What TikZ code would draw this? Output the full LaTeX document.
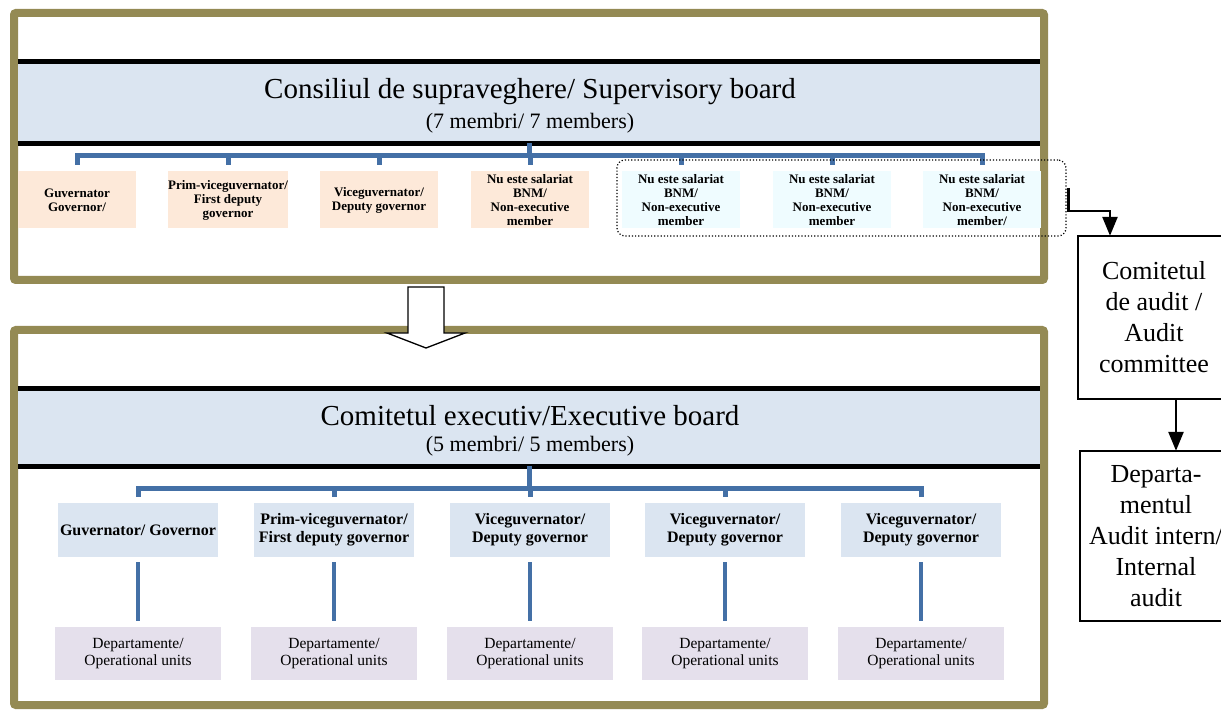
\documentclass[tikz,border=0pt]{standalone}
\usepackage{fontspec}
\setmainfont{Liberation Serif}
\usetikzlibrary{arrows.meta,calc}

\definecolor{frameolive}{HTML}{948A54}
\definecolor{bandblue}{HTML}{DBE5F1}
\definecolor{peach}{HTML}{FDE9D9}
\definecolor{paleaqua}{HTML}{EFFCFF}
\definecolor{lavender}{HTML}{E5E0EC}
\definecolor{linkblue}{HTML}{4470A6}

\tikzset{
  frame/.style={draw=frameolive, line width=8pt, rounded corners=2pt, minimum width=1030pt, inner sep=0pt},
  band/.style={fill=bandblue, minimum width=1022pt, inner sep=0pt},
  rule/.style={draw=black, line width=5pt},
  titletext/.style={font=\fontsize{29}{32}\selectfont, inner sep=0pt},
  subtext/.style={font=\fontsize{22}{25}\selectfont, inner sep=0pt},
  memberbox/.style={font=\fontsize{13}{14}\selectfont\bfseries, align=center, minimum width=118pt, minimum height=57pt, inner sep=0pt},
  govbox/.style={memberbox, fill=peach},
  nonexbox/.style={memberbox, fill=paleaqua},
  execbox/.style={font=\fontsize{16}{18}\selectfont\bfseries, align=center, fill=bandblue, minimum width=160pt, minimum height=54pt, inner sep=0pt},
  deptbox/.style={font=\fontsize{15.5}{17}\selectfont, align=center, fill=lavender, minimum width=166pt, minimum height=53pt, inner sep=0pt},
  link/.style={draw=linkblue, line width=5pt},
  dotbox/.style={draw, dotted, line width=1.2pt, rounded corners=8pt, minimum width=449pt, minimum height=76pt},
  audittext/.style={font=\fontsize{26}{31}\selectfont, align=center, minimum width=152pt, inner sep=0pt},
  auditline/.style={draw, line width=1.5pt},
  arr/.style={draw, line width=2.5pt, -{Triangle[width=15pt,length=19pt]}}
}

\begin{document}
\begin{tikzpicture}[x=1pt,y=-1pt]
  \useasboundingbox (0,0) rectangle (1221,711);

  % supervisory board
  \node[frame, minimum height=267pt] (sbframe) at (529,146.5) {};
  \node[band, minimum height=81pt] (sbband) at (529,102.5) {};
  \draw[rule] (sbband.north west) -- (sbband.north east);
  \draw[rule] (sbband.south west) -- (sbband.south east);
  \node[titletext] (sbtitle) at (530,92) {Consiliul de supraveghere/ Supervisory board};
  \node[subtext] (sbsub) at (530,123) {(7 membri/ 7 members)};

  \node[govbox] (m1) at (77,200) {Guvernator\\Governor/};
  \node[govbox] (m2) at (228,200) {Prim-viceguvernator/\\First deputy\\governor};
  \node[govbox] (m3) at (379,200) {Viceguvernator/\\Deputy governor};
  \node[govbox] (m4) at (530,200) {Nu este salariat\\BNM/\\Non-executive\\member};
  \node[nonexbox] (m5) at (681,200) {Nu este salariat\\BNM/\\Non-executive\\member};
  \node[nonexbox] (m6) at (832,200) {Nu este salariat\\BNM/\\Non-executive\\member};
  \node[nonexbox] (m7) at (982,200) {Nu este salariat\\BNM/\\Non-executive\\member/};

  \draw[link] (sbband.south) -- ++(0,12.5) -| ($(m1.north)+(0,-6)$);
  \draw[link] (sbband.south) -- ++(0,12.5) -| ($(m2.north)+(0,-6)$);
  \draw[link] (sbband.south) -- ++(0,12.5) -| ($(m3.north)+(0,-6)$);
  \draw[link] (sbband.south) -- ++(0,12.5) -| ($(m4.north)+(0,-6)$);
  \draw[link] (sbband.south) -- ++(0,12.5) -| ($(m5.north)+(0,-6)$);
  \draw[link] (sbband.south) -- ++(0,12.5) -| ($(m6.north)+(0,-6)$);
  \draw[link] (sbband.south) -- ++(0,12.5) -| ($(m7.north)+(0,-6)$);

  \node[dotbox] (ne) at (841.5,198) {};

  % executive board
  \node[frame, minimum height=375pt] (ebframe) at (529,517.5) {};
  \node[band, minimum height=77pt] (ebband) at (529,427.5) {};
  \draw[rule] (ebband.north west) -- (ebband.north east);
  \draw[rule] (ebband.south west) -- (ebband.south east);
  \node[titletext] (ebtitle) at (530,416) {Comitetul executiv/Executive board};
  \node[subtext] (ebsub) at (530,446) {(5 membri/ 5 members)};

  \node[execbox] (e1) at (138,530) {Guvernator/ Governor};
  \node[execbox] (e2) at (334,530) {Prim-viceguvernator/\\First deputy governor};
  \node[execbox] (e3) at (530,530) {Viceguvernator/\\Deputy governor};
  \node[execbox] (e4) at (725,530) {Viceguvernator/\\Deputy governor};
  \node[execbox] (e5) at (921,530) {Viceguvernator/\\Deputy governor};

  \draw[link] (ebband.south) -- ++(0,22.5) -| ($(e1.north)+(0,-6)$);
  \draw[link] (ebband.south) -- ++(0,22.5) -| ($(e2.north)+(0,-6)$);
  \draw[link] (ebband.south) -- ++(0,22.5) -| ($(e3.north)+(0,-6)$);
  \draw[link] (ebband.south) -- ++(0,22.5) -| ($(e4.north)+(0,-6)$);
  \draw[link] (ebband.south) -- ++(0,22.5) -| ($(e5.north)+(0,-6)$);

  \node[deptbox] (d1) at (138,653.5) {Departamente/\\Operational units};
  \node[deptbox] (d2) at (334,653.5) {Departamente/\\Operational units};
  \node[deptbox] (d3) at (530,653.5) {Departamente/\\Operational units};
  \node[deptbox] (d4) at (725,653.5) {Departamente/\\Operational units};
  \node[deptbox] (d5) at (921,653.5) {Departamente/\\Operational units};

  \draw[link, line width=4.5pt, shorten <=5pt, shorten >=6pt] (e1) -- (d1);
  \draw[link, line width=4.5pt, shorten <=5pt, shorten >=6pt] (e2) -- (d2);
  \draw[link, line width=4.5pt, shorten <=5pt, shorten >=6pt] (e3) -- (d3);
  \draw[link, line width=4.5pt, shorten <=5pt, shorten >=6pt] (e4) -- (d4);
  \draw[link, line width=4.5pt, shorten <=5pt, shorten >=6pt] (e5) -- (d5);

  % hollow arrow between boards
  \draw[fill=white, line width=1.3pt] (408,287) -- (408,333) -- (387,333) -- (426,348)
    -- (465,333) -- (444,333) -- (444,287) -- cycle;

  % audit (boxes run past the right edge)
  \node[audittext, minimum height=163pt] (ac) at (1154,317.5) {Comitetul\\de audit /\\Audit\\committee};
  \draw[auditline] (ac.north west) rectangle ($(ac.south east)+(30,0)$);
  \node[audittext, minimum height=170pt] (ai) at (1156,536) {Departa-\\mentul\\Audit intern/\\Internal\\audit};
  \draw[auditline] (ai.north west) rectangle ($(ai.south east)+(30,0)$);

  \draw[arr] ($(ne.east)+(2,-10)$) -- ++(0,23) -| ([xshift=-44pt]ac.north);
  \draw[arr] ([xshift=22pt]ac.south) -- ([xshift=22pt]ac.south |- ai.north);

\end{tikzpicture}
\end{document}
